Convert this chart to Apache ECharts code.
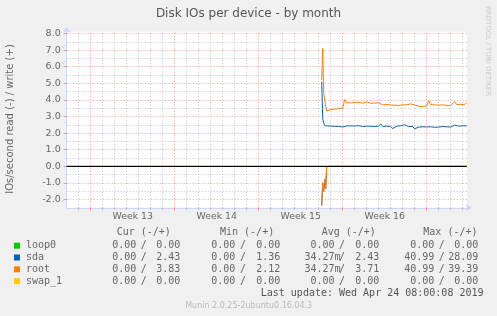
<!DOCTYPE html>
<html><head><meta charset="utf-8">
<script src="https://cdn.jsdelivr.net/npm/echarts@6/dist/echarts.min.js"></script>
<style>html,body{margin:0;padding:0;background:#f0f0f0}#c{width:497px;height:316px}</style>
</head><body><div id="c"></div>
<script>
// ---------------- data ----------------
const chartTitle = 'Disk IOs per device - by month';
const yAxisTitle = 'IOs/second read (-) / write (+)';
const sideText = 'RRDTOOL / TOBI OETIKER';
const lastUpdate = 'Last update: Wed Apr 24 08:00:08 2019';
const versionText = 'Munin 2.0.25-2ubuntu0.16.04.3';

// x = days since Fri Mar 22 00:00; right edge = Wed Apr 24 08:00
const spanDays = 33 + 1/3;
const weekLabels = ['Week 13', 'Week 14', 'Week 15', 'Week 16'];
const weekStartDays = [2, 9, 16, 23, 30];   // Sunday boundaries
const yTickValues = [-2, -1, 0, 1, 2, 3, 4, 5, 6, 7, 8];

// samples: first 8 every 2h from activeStart, then every 4h
const activeStart = 21.25;
const fineStep = 1 / 12;
const coarseStep = 1 / 6;

const sdaWriteFine  = [5.1, 2.9, 2.6, 2.45, 2.42, 2.42, 2.43, 2.42];
const rootWriteFine = [5.2, 7.1, 4.4, 4.0, 3.6, 3.33, 3.38, 3.40];
const readFine      = [-2.37, -1.0, -1.53, -0.8, -1.37, 0, 0, 0];

const sdaWriteCoarse = [
  2.42, 2.43, 2.41, 2.42, 2.40, 2.38, 2.37, 2.39, 2.43, 2.42,
  2.44, 2.40, 2.43, 2.41, 2.45, 2.42, 2.40, 2.44, 2.42, 2.46,
  2.41, 2.43, 2.40, 2.44, 2.42, 2.55, 2.40, 2.38, 2.42, 2.36,
  2.40, 2.27, 2.38, 2.42, 2.40, 2.44, 2.41, 2.50, 2.42, 2.39,
  2.43, 2.40, 2.26, 2.25, 2.36, 2.33, 2.38, 2.35, 2.37, 2.34,
  2.38, 2.36, 2.35, 2.37, 2.36, 2.38, 2.40, 2.36, 2.38, 2.37,
  2.36, 2.38, 2.48, 2.40, 2.42, 2.38, 2.44, 2.39, 2.43];
const rootWriteCoarse = [
  3.42, 3.43, 3.45, 3.46, 3.47, 3.49, 3.50, 4.02, 3.83, 3.85,
  3.82, 3.80, 3.84, 3.81, 3.86, 3.83, 3.80, 3.82, 3.88, 3.84,
  3.80, 3.83, 3.81, 3.85, 3.82, 3.92, 3.70, 3.68, 3.72, 3.66,
  3.70, 3.74, 3.68, 3.72, 3.67, 3.75, 3.70, 3.66, 3.71, 3.69,
  3.76, 3.82, 3.70, 3.66, 3.62, 3.70, 3.60, 3.68, 3.64, 3.95,
  3.72, 3.68, 3.70, 3.67, 3.69, 3.66, 3.70, 3.68, 3.66, 3.69,
  3.67, 3.70, 3.90, 3.72, 3.75, 3.73, 3.76, 3.72, 3.83];
const readCoarse = [
  0, 0, 0, 0, 0, 0, 0, 0, 0, 0,
  0, 0, 0, 0, 0, 0, 0, 0, 0, 0,
  0, 0, 0, 0, 0, 0, 0, 0, 0, 0,
  0, 0, 0, 0, 0, 0, 0, 0, 0, 0,
  0, 0, 0, 0, 0, 0, 0, 0, 0, 0,
  0, 0, 0, 0, 0, 0, 0, 0, 0, 0,
  0, -0.1, 0, 0, 0, 0, 0, 0, 0];
const flatTimes = [0, spanDays];
const flatValues = [0, 0];

// legend table
const legendNames  = ['loop0', 'sda', 'root', 'swap_1'];
const legendColors = ['#00cc00', '#0066b3', '#ff8000', '#ffcc00'];
const colHeaders = ['Cur (-/+)', 'Min (-/+)', 'Avg (-/+)', 'Max (-/+)'];
const curRead  = ['0.00', '0.00', '0.00', '0.00'];
const curWrite = ['0.00', '2.43', '3.83', '0.00'];
const minRead  = ['0.00', '0.00', '0.00', '0.00'];
const minWrite = ['0.00', '1.36', '2.12', '0.00'];
const avgRead  = ['0.00 ', '34.27m', '34.27m', '0.00 '];
const avgWrite = ['0.00', '2.43', '3.71', '0.00'];
const maxRead  = ['0.00', '40.99', '40.99', '0.00'];
const maxWrite = ['0.00', '28.09', '39.39', '0.00'];

// ---------------- build ----------------
const times = [];
for (let i = 0; i < sdaWriteFine.length; i++) times.push(activeStart + i * fineStep);
const lastFine = times[times.length - 1];
for (let k = 1; k <= sdaWriteCoarse.length; k++) times.push(lastFine + k * coarseStep);
const sdaWrite = sdaWriteFine.concat(sdaWriteCoarse);
const rootWrite = rootWriteFine.concat(rootWriteCoarse);
const readAll = readFine.concat(readCoarse);
const zip = (xs, ys) => xs.map((x, i) => [x, ys[i]]);

const MONO = '"DejaVu Sans Mono", monospace';
const SANS = '"DejaVu Sans", sans-serif';
const FONT_COLOR = '#666666';
const AXIS_COLOR = '#cfd6f8';
const MINOR = 'rgba(150,150,150,0.55)';
const MAJOR = 'rgba(230,90,90,0.6)';

// grid line marks (positions derived from the axis structure)
const gridLines = [];
for (let d = 1; d < spanDays; d++) {
  if (weekStartDays.indexOf(d) < 0) gridLines.push({xAxis: d, lineStyle: {color: MINOR, type: [1, 2], width: 1}});
}
weekStartDays.forEach(d => gridLines.push({xAxis: d, lineStyle: {color: MAJOR, type: [1, 2], width: 1}}));
for (let v = -2; v <= 8; v += 0.5) {
  const major = Number.isInteger(v);
  if (v === 0) continue;
  gridLines.push({yAxis: v, lineStyle: {color: major ? MAJOR : MINOR, type: [1, 2], width: 1}});
}
const weekMids = weekLabels.map((_, i) => (weekStartDays[i] + weekStartDays[i + 1]) / 2);

function lineSeries(name, data, color) {
  return {type: 'line', name, data, showSymbol: false, symbol: 'none', z: 3,
    lineStyle: {color, width: 1}, itemStyle: {color}, animation: false, silent: true,
    emphasis: {disabled: true}, connectNulls: false};
}

const series = [
  {type: 'line', data: [], z: 1, silent: true, animation: false,
    markLine: {silent: true, symbol: ['none', 'none'], animation: false, label: {show: false},
      emphasis: {disabled: true}, data: gridLines}},
  lineSeries('loop0 read', zip(flatTimes, flatValues), legendColors[0]),
  lineSeries('loop0', zip(flatTimes, flatValues), legendColors[0]),
  lineSeries('sda read', zip(times, readAll), legendColors[1]),
  lineSeries('sda', zip(times, sdaWrite), legendColors[1]),
  lineSeries('root read', zip(times, readAll), legendColors[2]),
  lineSeries('root', zip(times, rootWrite), legendColors[2]),
  lineSeries('swap_1 read', zip(flatTimes, flatValues), legendColors[3]),
  lineSeries('swap_1', zip(flatTimes, flatValues), legendColors[3]),
  {type: 'line', data: [], z: 6, silent: true, animation: false,
    markLine: {silent: true, symbol: ['none', 'none'], animation: false, label: {show: false},
      emphasis: {disabled: true}, data: [{yAxis: 0, lineStyle: {color: '#000', type: 'solid', width: 1}}]}}
];

function txt(x, y, text, font, fill, align, valign, rotation) {
  return {type: 'text', x, y, rotation: rotation || 0, silent: true,
    style: {text, font, fill, align: align || 'left', textAlign: align || 'left',
      verticalAlign: valign || 'middle', textVerticalAlign: valign || 'middle'}};
}

const graphics = [
  txt(248.5, 13.5, chartTitle, '12px ' + SANS, '#555555', 'center', 'middle'),
  txt(10.5, 119, yAxisTitle, '10px ' + SANS, FONT_COLOR, 'center', 'middle', Math.PI / 2),
  txt(488.3, 51, sideText, '7px ' + SANS, '#cccccc', 'center', 'middle', -Math.PI / 2),
  txt(483.5, 293.7, lastUpdate, '10px ' + MONO, '#555555', 'right', 'middle'),
  txt(248.7, 305.7, versionText, '8px ' + SANS, '#bbbbbb', 'center', 'middle')
];
const headerX = [116.7, 220, 321.7, 423.3];
const leftRight = [136.3, 235.3, 340.5, 434.3];
const slashX = [143.7, 243, 342, 441.8];
const rightRight = [180.3, 280.3, 379.3, 478.3];
const rowY = [245.7, 257.5, 269.3, 281.1];
colHeaders.forEach((h, c) => graphics.push(txt(headerX[c], 232.8, h, '10px ' + MONO, FONT_COLOR, 'left')));
const cols = [[curRead, curWrite], [minRead, minWrite], [avgRead, avgWrite], [maxRead, maxWrite]];
legendNames.forEach((n, r) => {
  graphics.push({type: 'rect', silent: true, shape: {x: 14, y: rowY[r] - 3, width: 6, height: 6},
    style: {fill: legendColors[r]}});
  graphics.push(txt(26, rowY[r], n, '10px ' + MONO, FONT_COLOR, 'left'));
  cols.forEach((pair, c) => {
    graphics.push(txt(leftRight[c], rowY[r], pair[0][r], '10px ' + MONO, FONT_COLOR, 'right'));
    graphics.push(txt(slashX[c], rowY[r], '/', '10px ' + MONO, FONT_COLOR, 'center'));
    graphics.push(txt(rightRight[c], rowY[r], pair[1][r], '10px ' + MONO, FONT_COLOR, 'right'));
  });
});

const chart = echarts.init(document.getElementById('c'), null, {renderer: 'canvas'});
chart.setOption({
  animation: false,
  backgroundColor: '#f0f0f0',
  grid: {left: 66.7, top: 31.84, width: 400, height: 175.96, show: true, backgroundColor: '#ffffff', borderWidth: 0},
  xAxis: [{
    type: 'value', min: 0, max: spanDays, position: 'bottom',
    axisLine: {show: true, onZero: false, lineStyle: {color: AXIS_COLOR, width: 1},
      symbol: ['none', 'arrow'], symbolSize: [6, 6], symbolOffset: [0, 5]},
    axisTick: {show: true, customValues: Array.from({length: 33}, (_, i) => i + 1).filter(d => weekStartDays.indexOf(d) < 0), length: 2, lineStyle: {color: MINOR}},
    axisLabel: {customValues: weekMids, formatter: v => weekLabels[weekMids.indexOf(v)] || '',
      color: FONT_COLOR, fontFamily: SANS, fontSize: 9.3, margin: 4},
    splitLine: {show: false}
  }, {
    type: 'value', min: 0, max: spanDays, position: 'bottom', offset: 0,
    axisLine: {show: false, onZero: false},
    axisTick: {show: true, customValues: weekStartDays, length: 3, lineStyle: {color: MAJOR}},
    axisLabel: {show: false}, splitLine: {show: false}
  }],
  yAxis: {
    type: 'value', min: -2.5, max: 8.1,
    axisLine: {show: true, lineStyle: {color: AXIS_COLOR, width: 1},
      symbol: ['none', 'arrow'], symbolSize: [6, 6], symbolOffset: [0, 5]},
    axisTick: {show: true, customValues: yTickValues, length: 3, lineStyle: {color: MAJOR}},
    axisLabel: {customValues: yTickValues, formatter: v => Number(v).toFixed(1),
      color: FONT_COLOR, fontFamily: SANS, fontSize: 9.5, margin: 6},
    splitLine: {show: false}
  },
  series,
  graphic: graphics
});
</script></body></html>
